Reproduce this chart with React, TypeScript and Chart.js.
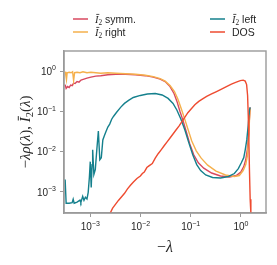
import React, { useEffect, useRef } from "react";
import { Chart, registerables } from "chart.js";
Chart.register(...registerables);

// ---- data ----
const lamLeft = [3.16e-4, 3.31e-4, 3.8e-4, 4.36e-4, 4.57e-4, 4.78e-4, 5.46e-4, 6.25e-4, 6.5e-4, 7.07e-4, 7.5e-4, 8.0e-4, 8.6e-4, 9.1e-4, 9.6e-4, 1.0e-3, 1.045e-3, 1.087e-3, 1.117e-3, 1.18e-3, 1.26e-3, 1.35e-3, 1.45e-3, 1.55e-3, 1.66e-3, 1.78e-3, 1.9e-3, 2.04e-3, 2.24e-3, 2.44e-3, 2.67e-3, 2.92e-3, 3.35e-3, 4.02e-3, 4.8e-3, 5.8e-3, 7.2e-3, 9.95e-3, 1.37e-2, 1.97e-2, 2.7e-2, 3.55e-2, 4.45e-2, 5.33e-2, 6.4e-2, 7.67e-2, 9.2e-2, 0.11, 0.132, 0.158, 0.199, 0.273, 0.393, 0.565, 0.741, 0.889, 1.02, 1.14, 1.22, 1.31, 1.4, 1.48, 1.53];
const iLeft = [2.04e-3, 5.25e-4, 5.25e-4, 5.4e-4, 6.6e-4, 5.25e-4, 5.57e-4, 6.24e-4, 5.5e-4, 7.8e-4, 6.2e-4, 7.4e-4, 6.7e-4, 9.8e-4, 2.29e-3, 5.65e-3, 1.3e-3, 4.77e-3, 1.11e-2, 2.71e-3, 3.6e-3, 1.11e-2, 3.26e-2, 6.3e-3, 7.1e-3, 1.96e-2, 2.46e-2, 3.08e-2, 4.08e-2, 4.84e-2, 6.4e-2, 7.6e-2, 9.5e-2, 0.126, 0.158, 0.188, 0.222, 0.249, 0.271, 0.279, 0.256, 0.21, 0.158, 0.107, 6.4e-2, 3.45e-2, 1.65e-2, 8.4e-3, 4.77e-3, 3.4e-3, 2.64e-3, 2.29e-3, 2.22e-3, 2.42e-3, 2.87e-3, 3.8e-3, 5.3e-3, 7.1e-3, 1.11e-2, 1.96e-2, 4.57e-2, 0.107, 0.126];

const lamSymm = [3.16e-4, 3.31e-4, 3.54e-4, 3.8e-4, 4.06e-4, 4.36e-4, 4.66e-4, 4.99e-4, 5.46e-4, 5.97e-4, 6.54e-4, 7.5e-4, 8.6e-4, 1.03e-3, 1.29e-3, 1.62e-3, 2.24e-3, 3.2e-3, 5.05e-3, 7.94e-3, 1.25e-2, 1.8e-2, 2.47e-2, 3.1e-2, 3.88e-2, 4.66e-2, 5.33e-2, 6.1e-2, 7.0e-2, 8.2e-2, 9.6e-2, 0.115, 0.142, 0.182, 0.261, 0.393, 0.59, 0.811, 0.995, 1.14, 1.25, 1.34, 1.42, 1.48, 1.53];
const iSymm = [0.464, 0.37, 0.414, 0.39, 0.451, 0.438, 0.505, 0.491, 0.549, 0.534, 0.598, 0.633, 0.67, 0.708, 0.75, 0.771, 0.816, 0.839, 0.839, 0.816, 0.771, 0.708, 0.633, 0.549, 0.414, 0.279, 0.177, 0.101, 6.07e-2, 3.08e-2, 1.56e-2, 8.4e-3, 5.3e-3, 3.9e-3, 2.95e-3, 2.49e-3, 2.35e-3, 2.56e-3, 3.12e-3, 4.26e-3, 6.3e-3, 1.11e-2, 2.6e-2, 6.8e-2, 0.126];

const lamRight = [3.16e-4, 3.27e-4, 3.36e-4, 3.47e-4, 3.8e-4, 4.16e-4, 4.45e-4, 4.66e-4, 4.88e-4, 5.46e-4, 6.25e-4, 7.16e-4, 8.6e-4, 1.03e-3, 1.29e-3, 1.62e-3, 2.24e-3, 3.2e-3, 5.05e-3, 7.94e-3, 1.25e-2, 1.8e-2, 2.47e-2, 3.1e-2, 3.88e-2, 4.76e-2, 5.58e-2, 6.55e-2, 7.5e-2, 8.8e-2, 0.105, 0.129, 0.162, 0.218, 0.32, 0.493, 0.741, 0.93, 1.11, 1.25, 1.34, 1.42, 1.48, 1.53];
const iRight = [0.967, 0.771, 0.615, 0.914, 0.94, 0.914, 0.967, 0.581, 0.914, 0.94, 0.914, 0.967, 0.914, 0.94, 0.914, 0.888, 0.914, 0.888, 0.863, 0.839, 0.793, 0.729, 0.651, 0.565, 0.438, 0.312, 0.199, 0.113, 6.8e-2, 3.65e-2, 1.85e-2, 1.05e-2, 6.9e-3, 4.64e-3, 3.3e-3, 2.64e-3, 2.42e-3, 2.56e-3, 3.4e-3, 4.77e-3, 7.5e-3, 1.96e-2, 6.07e-2, 0.12];

const lamDos = [2.5e-3, 2.79e-3, 3.2e-3, 3.67e-3, 4.34e-3, 4.82e-3, 5.52e-3, 6.32e-3, 7.24e-3, 8.5e-3, 9.95e-3, 1.09e-2, 1.19e-2, 1.34e-2, 1.5e-2, 1.72e-2, 1.97e-2, 2.25e-2, 2.58e-2, 2.96e-2, 3.39e-2, 3.88e-2, 4.45e-2, 5.1e-2, 5.84e-2, 6.7e-2, 7.67e-2, 8.79e-2, 0.101, 0.121, 0.145, 0.173, 0.208, 0.261, 0.327, 0.411, 0.515, 0.647, 0.811, 0.973, 1.11, 1.22, 1.3, 1.36, 1.4, 1.44, 1.48, 1.53, 1.58];
const dos = [3.0e-4, 3.97e-4, 4.98e-4, 6.24e-4, 7.96e-4, 9.27e-4, 1.19e-3, 1.46e-3, 1.77e-3, 2.16e-3, 2.49e-3, 2.87e-3, 3.12e-3, 4.03e-3, 4.5e-3, 5.05e-3, 6.9e-3, 8.9e-3, 1.11e-2, 1.4e-2, 1.75e-2, 2.19e-2, 2.75e-2, 3.45e-2, 4.32e-2, 5.57e-2, 7.18e-2, 9.27e-2, 0.113, 0.146, 0.177, 0.204, 0.235, 0.271, 0.312, 0.36, 0.414, 0.477, 0.534, 0.581, 0.598, 0.565, 0.464, 0.249, 8.05e-2, 1.96e-2, 3.6e-3, 6.6e-4, 3.0e-4];

const xTickExps = [-3, -2, -1, 0];
const yTickExps = [-3, -2, -1, 0];
const xLimExps = [-3.5, 0.5];
const yLimExps = [-3.5, 0.5];

const seriesNames = ["symm.", "right", "left", "DOS"];
const seriesColors = ["#d8485f", "#f5b04c", "#15808d", "#ee4b30"];
const seriesMath = [true, true, true, false];

const SANS = "'Liberation Sans', Arial, sans-serif";
const SERIF = "'Liberation Serif', 'DejaVu Serif', serif";
const AXIS_GRAY = "#9a9a9a";
const TEXT = "#262626";

type Seg = { t: string; italic?: boolean; sub?: boolean; sup?: boolean; over?: boolean; sans?: boolean };

function segFont(s: Seg, size: number) {
  const sz = s.sub || s.sup ? size * 0.7 : size;
  const fam = s.sans ? SANS : SERIF;
  return `${s.italic ? "italic " : ""}${sz}px ${fam}`;
}

function drawRich(ctx: CanvasRenderingContext2D, segs: Seg[], x: number, y: number, size: number, align: "left" | "center" | "right") {
  ctx.save();
  ctx.textAlign = "left";
  ctx.textBaseline = "alphabetic";
  const widths = segs.map((s) => {
    ctx.font = segFont(s, size);
    return ctx.measureText(s.t).width;
  });
  const total = widths.reduce((a, b) => a + b, 0);
  let cx = align === "left" ? x : align === "center" ? x - total / 2 : x - total;
  segs.forEach((s, i) => {
    ctx.font = segFont(s, size);
    let dy = 0;
    if (s.sub) dy = size * 0.22;
    if (s.sup) dy = -size * 0.45;
    ctx.fillText(s.t, cx, y + dy);
    if (s.over) {
      ctx.beginPath();
      ctx.lineWidth = Math.max(0.8, size / 16);
      ctx.strokeStyle = ctx.fillStyle as string;
      const top = y - size * 0.78;
      ctx.moveTo(cx + size * 0.12, top);
      ctx.lineTo(cx + widths[i] + size * 0.08, top);
      ctx.stroke();
    }
    cx += widths[i];
  });
  ctx.restore();
  return total;
}

function powSegs(e: number): Seg[] {
  const es = e < 0 ? "\u2212" + Math.abs(e) : String(e);
  return [
    { t: "10", sans: true },
    { t: es, sans: true, sup: true },
  ];
}

const overlayPlugin = {
  id: "overlay",
  afterDraw(chart: any) {
    const ctx: CanvasRenderingContext2D = chart.ctx;
    const { left, right, top, bottom } = chart.chartArea;
    const xs = chart.scales.x;
    const ys = chart.scales.y;
    ctx.save();
    // frame
    ctx.strokeStyle = AXIS_GRAY;
    ctx.lineWidth = 1.4;
    ctx.strokeRect(left, top, right - left, bottom - top);
    ctx.fillStyle = TEXT;
    // x tick labels
    xTickExps.forEach((e) => {
      const px = xs.getPixelForValue(Math.pow(10, e));
      drawRich(ctx, powSegs(e), px, bottom + 17, 10, "center");
    });
    // y tick labels
    yTickExps.forEach((e) => {
      const py = ys.getPixelForValue(Math.pow(10, e));
      drawRich(ctx, powSegs(e), left - 8, py + 3.6, 10, "right");
    });
    // axis titles
    drawRich(ctx, [{ t: "\u2212" }, { t: "\u03bb", italic: true }], (left + right) / 2, bottom + 39, 16, "center");
    ctx.save();
    ctx.translate(25, (top + bottom) / 2);
    ctx.rotate(-Math.PI / 2);
    drawRich(
      ctx,
      [
        { t: "\u2212" },
        { t: "\u03bb\u03c1", italic: true },
        { t: "(" },
        { t: "\u03bb", italic: true },
        { t: "), " },
        { t: "I", italic: true, over: true },
        { t: "2", sub: true },
        { t: "(" },
        { t: "\u03bb", italic: true },
        { t: ")" },
      ],
      0,
      5,
      15,
      "center"
    );
    ctx.restore();
    // legend
    const cols = [73, 210];
    const rows = [19, 32];
    seriesNames.forEach((name, i) => {
      const col = cols[Math.floor(i / 2)];
      const row = rows[i % 2];
      ctx.beginPath();
      ctx.strokeStyle = seriesColors[i];
      ctx.lineWidth = 1.5;
      ctx.moveTo(col, row);
      ctx.lineTo(col + 15, row);
      ctx.stroke();
      ctx.fillStyle = TEXT;
      const segs: Seg[] = seriesMath[i]
        ? [{ t: "I", italic: true, over: true }, { t: "2", sub: true }, { t: " " + name, sans: true }]
        : [{ t: name, sans: true }];
      drawRich(ctx, segs, col + 22, row + 3.6, 10.5, "left");
    });
    ctx.restore();
  },
};

function pts(xs: number[], ys: number[]) {
  return xs.map((x, i) => ({ x, y: ys[i] }));
}

export default function App() {
  const ref = useRef<HTMLCanvasElement | null>(null);
  useEffect(() => {
    document.body.style.margin = "0";
    const canvas = ref.current!;
    const mk = (label: string, data: any[], color: string, order: number) => ({
      label,
      data,
      borderColor: color,
      backgroundColor: color,
      borderWidth: 1.4,
      pointRadius: 0,
      showLine: true,
      tension: 0,
      clip: 0,
      order,
    });
    const chart = new Chart(canvas, {
      type: "scatter",
      data: {
        datasets: [
          mk("DOS", pts(lamDos, dos), seriesColors[3], 0),
          mk("left", pts(lamLeft, iLeft), seriesColors[2], 1),
          mk("right", pts(lamRight, iRight), seriesColors[1], 2),
          mk("symm.", pts(lamSymm, iSymm), seriesColors[0], 3),
        ],
      },
      options: {
        animation: false,
        responsive: false,
        devicePixelRatio: 1,
        layout: { padding: { top: 51, right: 11, left: 0, bottom: 0 } },
        plugins: { legend: { display: false }, tooltip: { enabled: false } },
        scales: {
          x: {
            type: "logarithmic",
            min: Math.pow(10, xLimExps[0]),
            max: Math.pow(10, xLimExps[1]),
            afterBuildTicks: (s: any) => {
              s.ticks = xTickExps.map((e) => ({ value: Math.pow(10, e) }));
            },
            afterFit: (s: any) => {
              s.height = 52;
            },
            ticks: { display: false },
            grid: { drawOnChartArea: false, drawTicks: true, tickLength: 4, color: AXIS_GRAY, lineWidth: 1 },
            border: { display: true, color: AXIS_GRAY, width: 1.4 },
          },
          y: {
            type: "logarithmic",
            min: Math.pow(10, yLimExps[0]),
            max: Math.pow(10, yLimExps[1]),
            afterBuildTicks: (s: any) => {
              s.ticks = yTickExps.map((e) => ({ value: Math.pow(10, e) }));
            },
            afterFit: (s: any) => {
              s.width = 64;
            },
            ticks: { display: false },
            grid: { drawOnChartArea: false, drawTicks: true, tickLength: 4, color: AXIS_GRAY, lineWidth: 1 },
            border: { display: true, color: AXIS_GRAY, width: 1.4 },
          },
        },
      } as any,
      plugins: [overlayPlugin],
    });
    return () => chart.destroy();
  }, []);
  return (
    <canvas
      ref={ref}
      width={277}
      height={265}
      style={{ position: "fixed", left: 0, top: 0, width: 277, height: 265, background: "#fff" }}
    />
  );
}
